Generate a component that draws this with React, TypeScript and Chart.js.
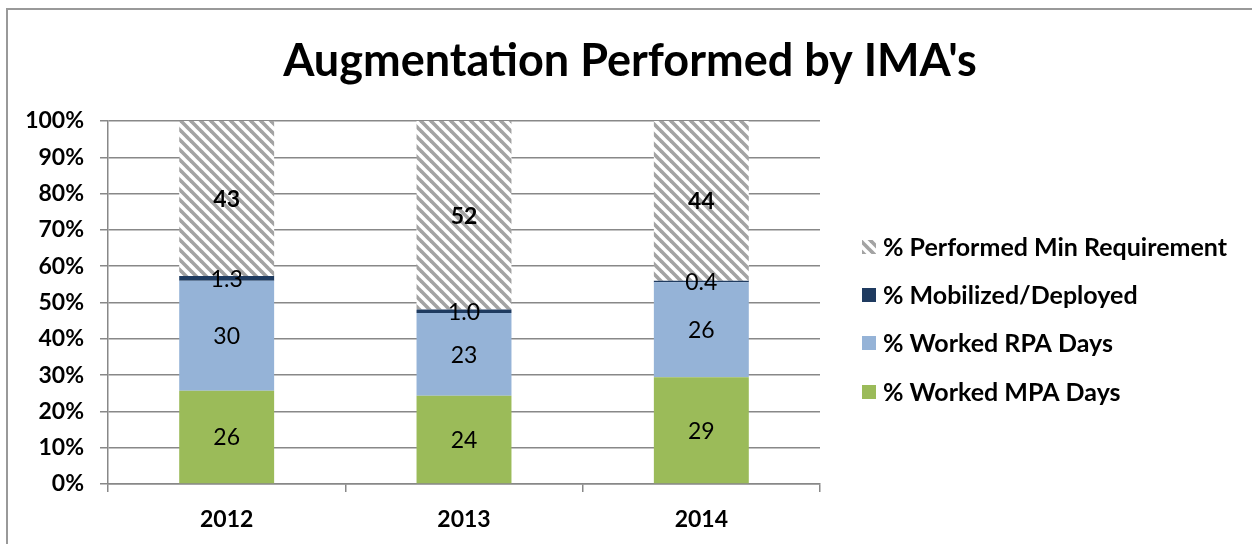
import React, { useEffect, useRef } from "react";
import { Chart, registerables } from "chart.js";

Chart.register(...registerables);

const categories = ["2012", "2013", "2014"];
const mpaDays = [25.7, 24.3, 29.4];
const rpaDays = [30.3, 22.8, 26.2];
const mobilized = [1.3, 1.0, 0.4];
const minRequirement = [42.7, 51.9, 44.0];

const mpaLabels = ["26", "24", "29"];
const rpaLabels = ["30", "23", "26"];
const mobLabels = ["1.3", "1.0", "0.4"];
const minLabels = ["43", "52", "44"];

const yTicks = [0, 10, 20, 30, 40, 50, 60, 70, 80, 90, 100];

const FONT = "Lato, 'Open Sans', sans-serif";

function makeStripe(): CanvasPattern | string {
  const c = document.createElement("canvas");
  c.width = 10;
  c.height = 10;
  const g = c.getContext("2d");
  if (!g) return "#aaa";
  g.fillStyle = "#ffffff";
  g.fillRect(0, 0, 10, 10);
  g.strokeStyle = "#a3a3a3";
  g.lineWidth = 3.6;
  for (const k of [-10, 0, 10]) {
    g.beginPath();
    g.moveTo(k - 5, -5);
    g.lineTo(k + 15, 15);
    g.stroke();
  }
  const p = g.createPattern(c, "repeat");
  return p || "#aaa";
}

export default function App() {
  const ref = useRef<HTMLCanvasElement>(null);
  useEffect(() => {
    if (!ref.current) return;
    const stripe = makeStripe();
    const labelSets = [mpaLabels, rpaLabels, mobLabels, minLabels];
    const labelPlugin = {
      id: "segLabels",
      afterDatasetsDraw(chart: any) {
        const ctx = chart.ctx;
        ctx.save();
        ctx.textAlign = "center";
        ctx.textBaseline = "middle";
        ctx.fillStyle = "#000";
        chart.data.datasets.forEach((ds: any, di: number) => {
          const meta = chart.getDatasetMeta(di);
          meta.data.forEach((bar: any, i: number) => {
            const y = (bar.y + bar.base) / 2;
            ctx.font = (di === 3 ? "bold " : "") + "23px " + FONT;
            ctx.fillText(labelSets[di][i], bar.x, y + 1);
          });
        });
        ctx.restore();
      },
    };
    const titleLegendPlugin = {
      id: "titleLegend",
      afterDraw(chart: any) {
        const ctx = chart.ctx;
        ctx.save();
        ctx.fillStyle = "#000";
        ctx.textAlign = "center";
        ctx.textBaseline = "middle";
        ctx.font = "bold 45px " + FONT;
        ctx.fillText("Augmentation Performed by IMA's", 630, 61);
        const order = [3, 2, 1, 0];
        const ys = [247, 295, 343, 392];
        ctx.textAlign = "left";
        ctx.font = "bold 25px " + FONT;
        order.forEach((di, k) => {
          const ds = chart.data.datasets[di];
          ctx.fillStyle = ds.backgroundColor;
          ctx.fillRect(862, ys[k] - 7, 14, 14);
          ctx.fillStyle = "#000";
          ctx.fillText(ds.label, 883, ys[k] + 1);
        });
        ctx.restore();
      },
    };
    const chart = new Chart(ref.current, {
      type: "bar",
      data: {
        labels: categories,
        datasets: [
          { label: "% Worked MPA Days", data: mpaDays, backgroundColor: "#9BBB59" },
          { label: "% Worked RPA Days", data: rpaDays, backgroundColor: "#95B3D7" },
          { label: "% Mobilized/Deployed", data: mobilized, backgroundColor: "#1F3B60" },
          { label: "% Performed Min Requirement", data: minRequirement, backgroundColor: stripe as any },
        ],
      },
      options: {
        animation: false,
        responsive: false,
        maintainAspectRatio: false,
        layout: { padding: { top: 121, left: 0, right: 432, bottom: 0 } },
        datasets: { bar: { categoryPercentage: 1, barPercentage: 0.4, borderWidth: 0 } },
        plugins: {
          legend: { display: false },
          title: { display: false },
          tooltip: { enabled: false },
        },
        scales: {
          x: {
            stacked: true,
            grid: {
              offset: true,
              drawOnChartArea: false,
              drawTicks: true,
              tickLength: 8,
              color: "#888",
              lineWidth: 1.5,
            },
            border: { display: true, color: "#888", width: 1.5 },
            ticks: {
              color: "#000",
              font: { family: FONT, size: 23, weight: "bold" },
              padding: 14,
            },
            afterFit(scale: any) {
              scale.height = 60;
            },
          },
          y: {
            stacked: true,
            min: 0,
            max: 100,
            afterBuildTicks(scale: any) {
              scale.ticks = yTicks.map((v) => ({ value: v }));
            },
            grid: { color: "#888", lineWidth: 1.5, tickLength: 8 },
            border: { display: true, color: "#888", width: 1.5 },
            ticks: {
              color: "#000",
              font: { family: FONT, size: 23, weight: "bold" },
              padding: 16,
              callback: (v: any) => v + "%",
            },
            afterFit(scale: any) {
              scale.width = 108;
            },
          },
        },
      },
      plugins: [labelPlugin, titleLegendPlugin],
    });
    return () => chart.destroy();
  }, []);
  return (
    <div style={{ position: "absolute", left: 0, top: 0, width: 1252, height: 544, background: "#fff", overflow: "hidden" }}>
      <div style={{ position: "absolute", left: 6, top: 8, width: 1260, height: 560, borderLeft: "2px solid #999", borderTop: "2px solid #999" }} />
      <canvas ref={ref} width={1252} height={544} style={{ position: "absolute", left: 0, top: 0 }} />
    </div>
  );
}
